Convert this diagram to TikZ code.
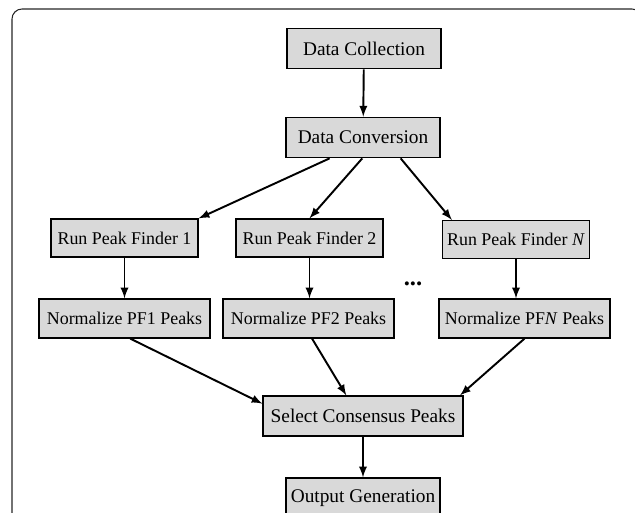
\documentclass[tikz,border=0pt]{standalone}
\usepackage{fontspec}
\setmainfont{Liberation Serif}
\usetikzlibrary{arrows}
\tikzset{
	block/.style    = {draw, line width=0.7pt, rectangle, fill=black!15,
		minimum width = 3.08cm, minimum height = 0.81cm, inner sep=0pt,
		font=\fontsize{11}{13}\selectfont},
	finder/.style   = {block, minimum width = 2.94cm, minimum height = 0.76cm,
		font=\fontsize{10.2}{12}\selectfont},
	norm/.style     = {finder, minimum width = 3.42cm, minimum height = 0.78cm},
	flow/.style     = {->, line width=1.1pt},
	frame/.style    = {draw=black!85, line width=0.6pt, rounded corners=0.2cm}
}
\newcommand{\finder}[1]{Run Peak Finder #1}

\begin{document}
\begin{tikzpicture}[auto, >=latex, x=0.02cm, y=-0.02cm]
	\useasboundingbox (0,0) rectangle (635,513);
	\clip (0,0) rectangle (635,513);
	\draw[frame] (12,9) rectangle (642,560);

	\draw
	node at (364,48.5) [block] (dc) {Data Collection}
	node at (363,137.5) [block] (dconv) {Data Conversion}
	node at (124.5,238) [finder] (pf1) {\finder{1}}
	node at (309.5,238) [finder] (pf2) {\finder{2}}
	node at (516,239.5) [finder] (pfn) {\finder{\textit{N}}}
	node at (124.5,318.5) [norm] (np1) {Normalize PF1 Peaks}
	node at (308.5,318.5) [norm] (np2) {Normalize PF2 Peaks}
	node at (524.5,318.5) [norm] (npn) {Normalize PF\textit{N} Peaks}
	node at (413,284) [font=\fontsize{14}{14}\selectfont] (dots) {\textbf{...}}
	node at (363,416) [block, minimum width=4cm, minimum height=0.8cm] (scp) {Select Consensus Peaks}
	node at (363,498) [block, minimum height=0.8cm] (og) {Output Generation};

	\draw[flow](dc)--(dconv);
	\draw[flow](dconv.212)--(pf1.north east);
	\draw[flow](dconv.268)--(pf2.north);
	\draw[flow](dconv.331)--(pfn.163);
	\draw[flow](pf1)--(np1);
	\draw[flow](pf2)--(pf2 |- np2.north);
	\draw[flow](pfn)--(pfn |- npn.north);
	\draw[flow](np1.-74)--(scp.173);
	\draw[flow](np2.-80)--(scp.129);
	\draw[flow](npn.south)--(scp.12);
	\draw[flow](scp)--(og);

	\end{tikzpicture}
\end{document}
